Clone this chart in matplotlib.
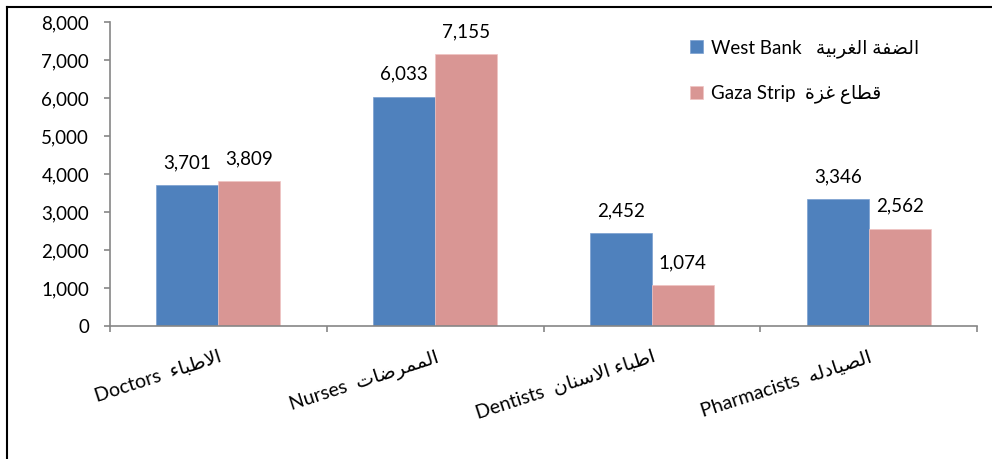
import matplotlib
matplotlib.use("Agg")
import matplotlib.pyplot as plt
import numpy as np
from matplotlib.lines import Line2D
from matplotlib.ticker import FuncFormatter

# ==============================================================================
# DATA
# ==============================================================================
categories_en = ["Doctors", "Nurses", "Dentists", "Pharmacists"]
categories_ar = ["الاطباء", "الممرضات", "اطباء الاسنان", "الصيادله"]
west_bank = [3701, 6033, 2452, 3346]
gaza_strip = [3809, 7155, 1074, 2562]
series_en = ["West Bank", "Gaza Strip"]
series_ar = ["الضفة الغربية", "قطاع غزة"]
y_ticks = [0, 1000, 2000, 3000, 4000, 5000, 6000, 7000, 8000]

# ==============================================================================
# Arabic shaping (matplotlib has no shaping / RTL support)
# forms: isolated, final, initial, medial
# ==============================================================================
FORMS = {
    'ا': ('\ufe8d', '\ufe8e', None, None),
    'ب': ('\ufe8f', '\ufe90', '\ufe91', '\ufe92'),
    'ة': ('\ufe93', '\ufe94', None, None),
    'ت': ('\ufe95', '\ufe96', '\ufe97', '\ufe98'),
    'د': ('\ufea9', '\ufeaa', None, None),
    'ر': ('\ufead', '\ufeae', None, None),
    'ز': ('\ufeaf', '\ufeb0', None, None),
    'س': ('\ufeb1', '\ufeb2', '\ufeb3', '\ufeb4'),
    'ص': ('\ufeb9', '\ufeba', '\ufebb', '\ufebc'),
    'ض': ('\ufebd', '\ufebe', '\ufebf', '\ufec0'),
    'ط': ('\ufec1', '\ufec2', '\ufec3', '\ufec4'),
    'ع': ('\ufec9', '\ufeca', '\ufecb', '\ufecc'),
    'غ': ('\ufecd', '\ufece', '\ufecf', '\ufed0'),
    'ف': ('\ufed1', '\ufed2', '\ufed3', '\ufed4'),
    'ق': ('\ufed5', '\ufed6', '\ufed7', '\ufed8'),
    'ل': ('\ufedd', '\ufede', '\ufedf', '\ufee0'),
    'م': ('\ufee1', '\ufee2', '\ufee3', '\ufee4'),
    'ن': ('\ufee5', '\ufee6', '\ufee7', '\ufee8'),
    'ه': ('\ufee9', '\ufeea', '\ufeeb', '\ufeec'),
    'ي': ('\ufef1', '\ufef2', '\ufef3', '\ufef4'),
    'ء': ('\ufe80', None, None, None),
    'LA': ('\ufefb', '\ufefc', None, None),
}


def shape_ar(text):
    chars = []
    i = 0
    while i < len(text):
        if text[i] == 'ل' and i + 1 < len(text) and text[i + 1] == 'ا':
            chars.append('LA')
            i += 2
        else:
            chars.append(text[i])
            i += 1
    out = []
    for k, c in enumerate(chars):
        f = FORMS.get(c)
        if f is None:
            out.append(c)
            continue
        prev = chars[k - 1] if k > 0 else None
        nxt = chars[k + 1] if k + 1 < len(chars) else None
        jp = prev in FORMS and FORMS[prev][2] is not None and f[1] is not None
        jn = f[2] is not None and nxt in FORMS
        if jp and jn:
            out.append(f[3])
        elif jp:
            out.append(f[1])
        elif jn:
            out.append(f[2])
        else:
            out.append(f[0])
    return ''.join(reversed(out))


plt.rcParams['font.family'] = ['Lato', 'DejaVu Sans']

blue = "#4F81BD"
pink = "#D99694"
axis_gray = "#868686"

fig = plt.figure(figsize=(9.92, 4.59), dpi=100)
ax = fig.add_axes([110 / 992, 1 - 326 / 459, (977 - 110) / 992, (326 - 22) / 459])

x = np.arange(len(categories_en))
w = 0.286
b1 = ax.bar(x - w / 2, west_bank, w, color=blue, edgecolor="#7a9fd0", linewidth=0.5,
            label=series_en[0] + "   " + shape_ar(series_ar[0]))
b2 = ax.bar(x + w / 2, gaza_strip, w, color=pink, edgecolor="#f0c4c2", linewidth=0.5,
            label=series_en[1] + "  " + shape_ar(series_ar[1]))

for bars in (b1, b2):
    for r in bars:
        ax.annotate(f"{int(r.get_height()):,}", (r.get_x() + r.get_width() / 2, r.get_height()),
                    xytext=(0, 10), textcoords="offset points", ha="center", va="bottom",
                    fontsize=13.5)

ax.set_xlim(-0.5, len(categories_en) - 0.5)
ax.set_ylim(0, 8000)
ax.set_yticks(y_ticks)
ax.yaxis.set_major_formatter(FuncFormatter(lambda v, p: f"{int(v):,}"))

# category boundaries as major ticks, labels on minor ticks
ax.set_xticks(np.arange(-0.5, len(categories_en), 1.0))
ax.set_xticklabels([])
ax.set_xticks(x, minor=True)
labels = [en + "  " + shape_ar(ar) for en, ar in zip(categories_en, categories_ar)]
ax.set_xticklabels(labels, minor=True)
for t in ax.get_xticklabels(minor=True):
    t.set_rotation(18)
    t.set_ha("right")
    t.set_va("top")
    t.set_rotation_mode("anchor")
    t.set_fontsize(14)
ax.tick_params(axis="x", which="minor", length=0, pad=16)
ax.tick_params(axis="x", which="major", length=4, color=axis_gray, width=1.2)
ax.tick_params(axis="y", length=4, color=axis_gray, width=1.2, pad=11, labelsize=13.5)

for s in ("top", "right"):
    ax.spines[s].set_visible(False)
for s in ("left", "bottom"):
    ax.spines[s].set_color(axis_gray)
    ax.spines[s].set_linewidth(1.2)

leg = ax.legend(loc="upper left", bbox_to_anchor=(690 / 992, 1 - 39 / 459),
                bbox_transform=fig.transFigure, frameon=False, fontsize=13.5,
                handlelength=0.7, handleheight=0.7, handletextpad=0.4,
                labelspacing=1.45, borderpad=0, borderaxespad=0)

# outer frame (left and top edges visible)
fig.add_artist(Line2D([7 / 992, 7 / 992], [0, 1 - 7 / 459], transform=fig.transFigure,
                      color="black", linewidth=1.5))
fig.add_artist(Line2D([7 / 992, 1], [1 - 7 / 459, 1 - 7 / 459], transform=fig.transFigure,
                      color="black", linewidth=1.5))

fig.savefig("out.png", dpi=100)
